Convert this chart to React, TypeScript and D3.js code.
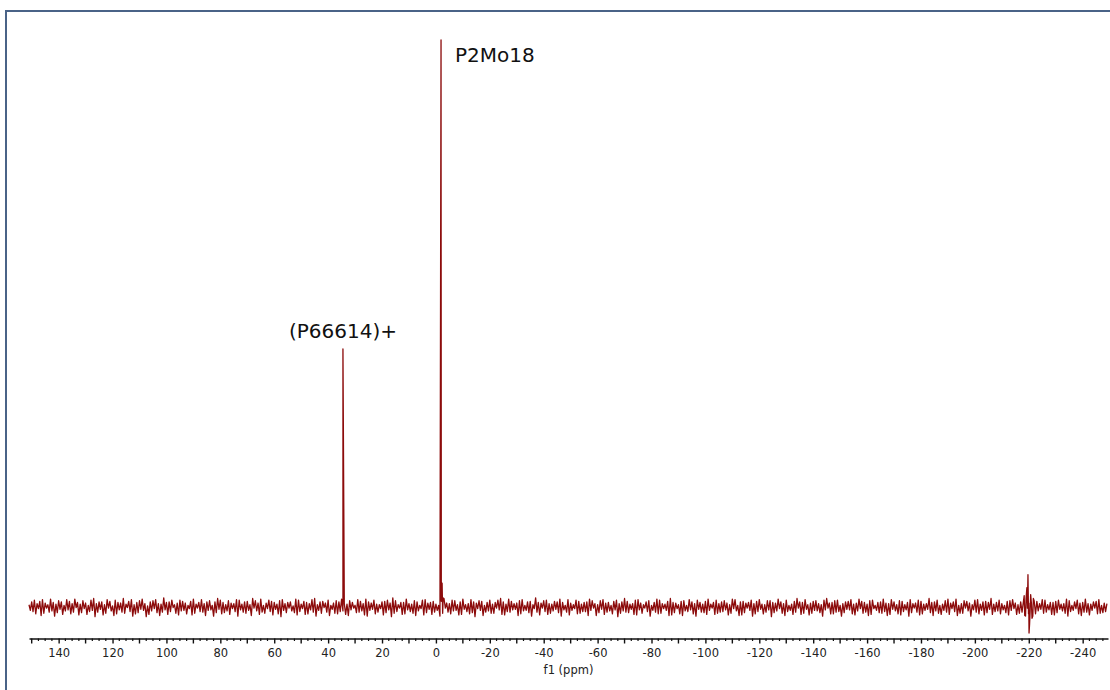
import React, { useEffect, useRef } from "react";
import * as d3 from "d3";

// upper noise excursions (thousandths of the tallest peak), one per whole ppm from 151 down
const noiseStart = 151;
const noiseTop = [
  4, 9, 12, 6, 10, 13, 7, 4, 14, 8, 5, 11, 9, 3, 13, 10, 6, 14, 8, 5,
  11, 7, 3, 12, 15, 6, 9, 9, 4, 13, 10, 2, 12, 8, 7, 15, 5, 10, 13, 4,
  8, 11, 14, 6, 2, 9, 11, 13, 6, 5, 16, 8, 9, 12, 4, 7, 12, 10, 7, 3,
  10, 14, 5, 8, 13, 6, 9, 11, 3, 9, 15, 12, 8, 4, 11, 7, 6, 13, 12, 5,
  9, 10, 4, 15, 11, 7, 14, 3, 7, 12, 10, 8, 5, 11, 13, 6, 8, 9, 2, 14,
  12, 5, 10, 8, 6, 13, 15, 4, 9, 10, 7, 12, 3, 7, 11, 9, 14, 6, 5, 11,
  8, 3, 13, 10, 6, 14, 9, 7, 12, 5, 4, 9, 10, 12, 7, 16, 11, 4, 8, 8,
  14, 6, 5, 11, 9, 3, 12, 13, 7, 8, 10, 5, 3, 10, 15, 7, 6, 12, 11, 4,
  9, 14, 4, 6, 13, 9, 7, 11, 10, 3, 8, 12, 5, 8, 12, 15, 9, 5, 14, 10,
  6, 7, 11, 13, 3, 9, 10, 4, 16, 8, 7, 11, 12, 6, 5, 10, 9, 14, 8, 3,
  13, 7, 4, 12, 10, 5, 8, 9, 14, 11, 6, 4, 11, 13, 7, 8, 3, 10, 12, 6,
  9, 15, 10, 5, 6, 12, 13, 7, 4, 9, 11, 3, 8, 14, 12, 6, 5, 10, 15, 8,
  7, 4, 10, 11, 3, 13, 9, 6, 12, 8, 5, 10, 14, 5, 8, 12, 6, 9, 11, 7,
  4, 14, 13, 3, 9, 10, 7, 8, 12, 6, 10, 13, 5, 4, 11, 11, 8, 7, 14, 9,
  6, 12, 3, 5, 10, 15, 9, 8, 13, 4, 7, 10, 11, 6, 4, 12, 15, 7, 8, 11,
  12, 3, 6, 9, 10, 13, 5, 7, 14, 10, 8, 5, 11, 12, 3, 8, 9, 14, 7, 6,
  13, 9, 4, 11, 10, 4, 8, 13, 6, 7, 12, 10, 5, 6, 15, 8, 9, 12, 3, 5,
  11, 14, 7, 9, 14, 3, 6, 11, 10, 7, 4, 12, 13, 5, 9, 10, 8, 15, 5, 8,
  12, 6, 3, 10, 11, 13, 7, 4, 9, 9, 15, 7, 5, 11, 10, 6, 13, 12, 4, 8,
  8, 10, 12, 5, 6, 14, 11, 3, 9, 12, 7, 8, 14, 6, 5, 9, 10, 13, 3, 7,
  6,
];

// lower noise excursions at the half ppm points in between (150.5 down)
const noiseBottom = [
  -6, -8, -12, -3, -15, -11, -2, -9, -7, -16, -10, -4, -13, -7, -5, -12, -9, -1, -14, -10,
  -3, -13, -8, -6, -17, -9, -4, -14, -11, -2, -7, -15, -12, -5, -9, -11, -1, -8, -16, -12,
  -10, -4, -6, -17, -13, -7, -3, -10, -15, -9, -5, -13, -8, -1, -11, -14, -7, -6, -12, -3,
  -14, -11, -2, -8, -9, -15, -6, -5, -16, -10, -4, -12, -10, -7, -13, -3, -8, -16, -5, -9,
  -11, -6, -15, -2, -7, -13, -9, -11, -3, -8, -14, -4, -12, -17, -6, -10, -2, -7, -10, -14,
  -8, -3, -13, -12, -5, -9, -16, -6, -11, -1, -9, -15, -4, -11, -12, -8, -7, -13, -15, -5,
  -2, -10, -9, -7, -14, -16, -6, -4, -12, -9, -3, -14, -10, -5, -17, -11, -8, -2, -13, -12,
  -5, -8, -11, -15, -7, -3, -14, -10, -4, -13, -9, -6, -16, -11, -2, -9, -12, -7, -6, -14,
  -13, -4, -8, -12, -10, -17, -3, -6, -15, -9, -7, -11, -11, -2, -5, -13, -14, -8, -9, -5,
  -4, -15, -12, -7, -6, -10, -16, -3, -9, -14, -2, -8, -13, -11, -7, -4, -10, -16, -5, -9,
  -14, -6, -3, -12, -11, -8, -8, -15, -6, -2, -15, -10, -4, -13, -9, -7, -12, -5, -17, -11,
  -7, -9, -10, -4, -13, -14, -5, -11, -2, -8, -16, -6, -9, -12, -11, -3, -6, -15, -14, -10,
  -3, -12, -15, -7, -8, -5, -12, -16, -4, -9, -10, -13, -6, -2, -13, -11, -9, -8, -5, -14,
  -11, -3, -7, -15, -14, -10, -2, -6, -16, -12, -8, -4, -12, -9, -5, -17, -10, -7, -3, -11,
  -15, -8, -6, -13, -9, -2, -13, -11, -4, -14, -11, -6, -7, -10, -16, -5, -2, -12, -12, -9,
  -8, -16, -10, -4, -5, -12, -14, -7, -3, -11, -9, -15, -13, -3, -6, -10, -11, -8, -15, -13,
  -4, -7, -12, -14, -8, -5, -16, -10, -2, -9, -14, -12, -6, -4, -10, -15, -7, -11, -13, -6,
  -9, -13, -3, -8, -15, -11, -11, -2, -7, -16, -5, -9, -12, -6, -14, -10, -4, -13, -8, -7,
  -12, -5, -10, -14, -6, -3, -13, -11, -9, -15, -2, -8, -16, -12, -7, -4, -11, -9, -5, -13,
  -14, -10, -4, -7, -11, -16, -8, -6, -3, -12, -15, -9, -9, -14, -6, -2, -12, -11, -10, -8,
];

const peaks = [
  { ppm: 34.5, value: 455, label: "(P66614)+" },
  { ppm: -1.9, value: 1000, label: "P2Mo18" },
];

// shoulder of the big peak and the dispersive glitch near -220 ppm
const extras = [
  { ppm: -2.3, value: 42 },
  { ppm: -2.7, value: 16 },
  { ppm: -218.3, value: 20 },
  { ppm: -218.8, value: -16 },
  { ppm: -219.3, value: 34 },
  { ppm: -219.7, value: 57 },
  { ppm: -219.9, value: -12 },
  { ppm: -220.1, value: -46 },
  { ppm: -220.3, value: -30 },
  { ppm: -220.7, value: 22 },
  { ppm: -221.2, value: -20 },
  { ppm: -221.7, value: 15 },
];

const labelTicks = d3.range(140, -241, -20);
const midTicks = d3.range(150, -250, -10).filter((d) => d % 20 !== 0);
const minorTicks = d3.range(150, -250, -2.5).filter((d) => d % 10 !== 0);

const W = 1110;
const H = 690;
const color = "#8c0b0b";
const font = "'DejaVu Sans', Verdana, sans-serif";

const App = () => {
  const axisRef = useRef<SVGGElement>(null);

  const x = d3.scaleLinear().domain([151, -249.4]).range([29, 1108]);
  const y = d3.scaleLinear().domain([0, 1000]).range([607, 40]);
  const axisY = 638.5;

  const points = [
    ...noiseTop.map((v, i) => ({ ppm: noiseStart - i, value: v })),
    ...noiseBottom.map((v, i) => ({ ppm: noiseStart - 0.5 - i, value: v })),
    ...peaks.map((p) => ({ ppm: p.ppm, value: p.value })),
    ...extras,
  ].sort((a, b) => b.ppm - a.ppm);

  const line = d3
    .line<{ ppm: number; value: number }>()
    .x((d) => x(d.ppm))
    .y((d) => y(d.value));

  useEffect(() => {
    const g = d3.select(axisRef.current);
    g.selectAll("*").remove();
    g.call(
      d3
        .axisBottom(x)
        .tickValues(labelTicks)
        .tickSize(5)
        .tickPadding(5)
        .tickSizeOuter(0)
        .tickFormat((d) => String(d))
    );
    g.select(".domain").attr("stroke", "#111").attr("stroke-width", 1.4);
    g.selectAll(".tick line").attr("stroke", "#111").attr("stroke-width", 1.4);
    g.selectAll("text")
      .attr("fill", "#222")
      .style("font-family", font)
      .style("font-size", "11.5px");
  }, []);

  return (
    <svg
      width={W}
      height={H}
      style={{ position: "absolute", left: 0, top: 0, background: "#fff" }}
    >
      <rect x={6} y={11} width={W + 10} height={H + 10} fill="none" stroke="#4a6387" strokeWidth={2} />

      <path d={line(points) ?? ""} fill="none" stroke={color} strokeWidth={1.3} strokeLinejoin="round" />

      <g ref={axisRef} transform={`translate(0,${axisY})`} />
      {midTicks.map((t) => (
        <line key={"m" + t} x1={x(t)} x2={x(t)} y1={axisY} y2={axisY + 5} stroke="#111" strokeWidth={1.4} />
      ))}
      {minorTicks.map((t) => (
        <line key={"n" + t} x1={x(t)} x2={x(t)} y1={axisY} y2={axisY + 2.5} stroke="#111" strokeWidth={1.2} />
      ))}
      <text
        x={(x.range()[0] + x.range()[1]) / 2}
        y={674}
        textAnchor="middle"
        fontFamily={font}
        fontSize={11.5}
        fill="#222"
      >
        f1 (ppm)
      </text>

      <text
        x={x(peaks[0].ppm)}
        y={y(peaks[0].value) - 11}
        textAnchor="middle"
        fontFamily={font}
        fontSize={20}
        fill="#111"
      >
        {peaks[0].label}
      </text>
      <text
        x={x(peaks[1].ppm) + 14}
        y={y(peaks[1].value) + 22}
        fontFamily={font}
        fontSize={20}
        fill="#111"
      >
        {peaks[1].label}
      </text>
    </svg>
  );
};

export default App;
